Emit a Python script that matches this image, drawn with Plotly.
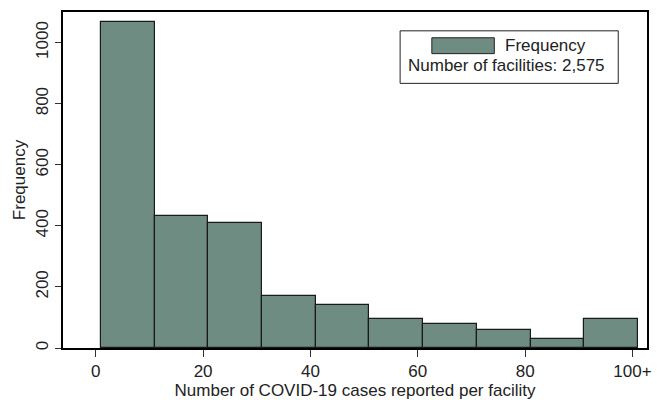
import plotly.graph_objects as go

bin_starts = [1, 11, 21, 31, 41, 51, 61, 71, 81, 91]
bin_width = 10
counts = [1068, 432, 409, 169, 142, 95, 77, 59, 29, 95]
x_tickvals = [0, 20, 40, 60, 80, 100]
x_ticktext = ["0", "20", "40", "60", "80", "100+"]
y_tickvals = [0, 200, 400, 600, 800, 1000]
legend_label = "Frequency"
n_label = "Number of facilities: 2,575"

bar_color = "#6e8c82"
font = "Liberation Sans, Arial, sans-serif"
fs = 17

fig = go.Figure()
fig.add_trace(go.Bar(
    x=[s + bin_width / 2 for s in bin_starts],
    y=counts,
    width=[bin_width] * len(counts),
    marker=dict(color=bar_color, line=dict(color="#1a1a1a", width=1.2)),
    showlegend=False,
))

fig.update_layout(
    width=657, height=400,
    margin=dict(l=63, r=5, t=12, b=49),
    paper_bgcolor="white", plot_bgcolor="white",
    font=dict(family=font, size=fs, color="#222"),
    bargap=0,
    xaxis=dict(
        range=[-6.1, 102.7], tickvals=x_tickvals, ticktext=x_ticktext,
        ticks="outside", ticklen=7, tickwidth=1.2, tickcolor="#333",
        showline=True, linecolor="black", linewidth=1.5, mirror=True,
        showgrid=False, zeroline=False,
        title=dict(text="Number of COVID-19 cases reported per facility", standoff=2,
                   font=dict(size=fs)),
        tickfont=dict(size=fs),
    ),
    yaxis=dict(
        range=[0, 1100], tickvals=y_tickvals, tickangle=-90,
        ticks="outside", ticklen=6, tickwidth=1.2, tickcolor="#333",
        showline=True, linecolor="black", linewidth=1.5, mirror=True,
        showgrid=False, zeroline=False,
        title=dict(text="Frequency", standoff=4, font=dict(size=fs)),
        tickfont=dict(size=fs),
    ),
)

# legend box
fig.add_shape(type="rect", xref="paper", yref="paper",
              x0=(403 - 63) / 589, x1=(623 - 63) / 589,
              y0=(351 - 84) / 339, y1=(351 - 31) / 339,
              line=dict(color="#222", width=1), fillcolor="white")
fig.add_shape(type="rect", xref="paper", yref="paper",
              x0=(435 - 63) / 589, x1=(498 - 63) / 589,
              y0=(351 - 54) / 339, y1=(351 - 38) / 339,
              line=dict(color="#222", width=1), fillcolor=bar_color)
fig.add_annotation(xref="paper", yref="paper", x=(507 - 63) / 589, y=(351 - 46) / 339,
                   text=legend_label, showarrow=False, xanchor="left", yanchor="middle",
                   font=dict(size=fs))
fig.add_annotation(xref="paper", yref="paper", x=(510 - 63) / 589, y=(351 - 66) / 339,
                   text=n_label, showarrow=False, xanchor="center", yanchor="middle",
                   font=dict(size=fs))

fig.write_html("out.html", config={"displayModeBar": False},
               post_script="document.body.style.margin='0';document.body.style.overflow='hidden';")
